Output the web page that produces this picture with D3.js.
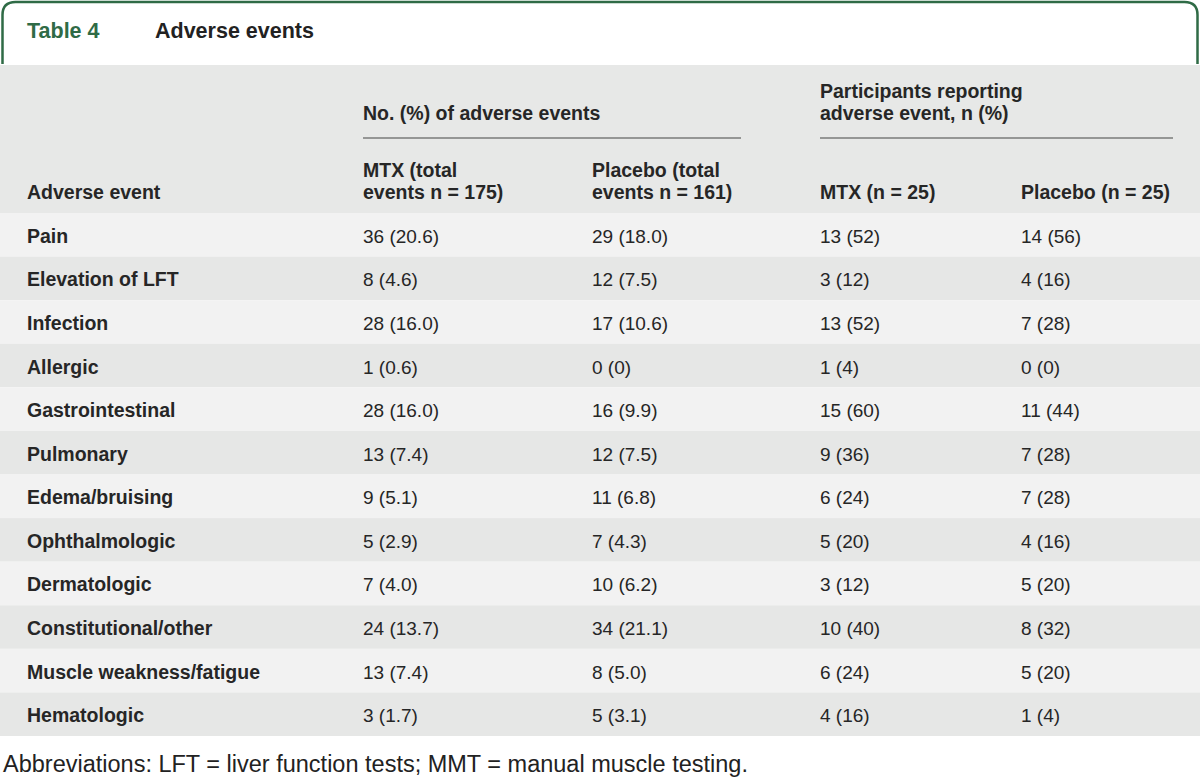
<!DOCTYPE html>
<html>
<head>
<meta charset="utf-8">
<script src="https://cdn.jsdelivr.net/npm/d3@7"></script>
<style>
  html, body { margin: 0; padding: 0; background: #fff; }
  svg { display: block; }
</style>
</head>
<body>
<svg id="chart" width="1200" height="779"></svg>
<script>
// ---- Data ----
const events = ["Pain", "Elevation of LFT", "Infection", "Allergic", "Gastrointestinal", "Pulmonary",
  "Edema/bruising", "Ophthalmologic", "Dermatologic", "Constitutional/other", "Muscle weakness/fatigue", "Hematologic"];
const mtxEventN = [36, 8, 28, 1, 28, 13, 9, 5, 7, 24, 13, 3];
const mtxEventPct = [20.6, 4.6, 16.0, 0.6, 16.0, 7.4, 5.1, 2.9, 4.0, 13.7, 7.4, 1.7];
const placeboEventN = [29, 12, 17, 0, 16, 12, 11, 7, 10, 34, 8, 5];
const placeboEventPct = [18.0, 7.5, 10.6, 0, 9.9, 7.5, 6.8, 4.3, 6.2, 21.1, 5.0, 3.1];
const mtxPartN = [13, 3, 13, 1, 15, 9, 6, 5, 3, 10, 6, 4];
const mtxPartPct = [52, 12, 52, 4, 60, 36, 24, 20, 12, 40, 24, 16];
const placeboPartN = [14, 4, 7, 0, 11, 7, 7, 4, 5, 8, 5, 1];
const placeboPartPct = [56, 16, 28, 0, 44, 28, 28, 16, 20, 32, 20, 4];

const tableNumber = "Table 4";
const tableTitle = "Adverse events";
const groupHeaders = [["No. (%) of adverse events"], ["Participants reporting", "adverse event, n (%)"]];
const columnHeaders = [["Adverse event"], ["MTX (total", "events n = 175)"], ["Placebo (total", "events n = 161)"],
  ["MTX (n = 25)"], ["Placebo (n = 25)"]];
const footnote = "Abbreviations: LFT = liver function tests; MMT = manual muscle testing.";

(function () {
// ---- Layout ----
const W = 1200;
const svg = d3.select("#chart");
const font = "'Liberation Sans', Arial, sans-serif";
const textColor = "#262626";
const green = "#2f6b46";
const boldSize = 19.5, bodySize = 19;

const colX = [27, 363, 592, 820, 1021];
const rowScale = d3.scaleBand().domain(d3.range(events.length)).range([213, 736]).paddingInner(0);

// header band
svg.append("rect").attr("x", 0).attr("y", 65).attr("width", W).attr("height", 148).attr("fill", "#e7e8e7");

// title border (rounded top)
const r = 13, bTop = 2, bLeft = 2.5, bRight = W - 2.5, bBottom = 64;
svg.append("path")
  .attr("d", `M${bLeft},${bBottom} V${bTop + r} Q${bLeft},${bTop} ${bLeft + r},${bTop} H${bRight - r} Q${bRight},${bTop} ${bRight},${bTop + r} V${bBottom}`)
  .attr("fill", "none").attr("stroke", green).attr("stroke-width", 2.5);

svg.append("text").attr("x", 27).attr("y", 38).attr("fill", green)
  .attr("font-family", font).attr("font-weight", "bold").attr("font-size", 21.5).text(tableNumber);
svg.append("text").attr("x", 155).attr("y", 38).attr("fill", "#222")
  .attr("font-family", font).attr("font-weight", "bold").attr("font-size", 21.5).text(tableTitle);

// group headers
const groupSpans = [[363, 741], [820, 1173]];
groupHeaders.forEach((lines, gi) => {
  const n = lines.length;
  lines.forEach((l, li) => {
    svg.append("text").attr("x", groupSpans[gi][0]).attr("y", 120 - (n - 1 - li) * 22)
      .attr("fill", textColor).attr("font-family", font).attr("font-weight", "bold").attr("font-size", boldSize).text(l);
  });
  svg.append("line").attr("x1", groupSpans[gi][0]).attr("x2", groupSpans[gi][1]).attr("y1", 138).attr("y2", 138)
    .attr("stroke", "#444").attr("stroke-width", 1.2);
});

// column headers
columnHeaders.forEach((lines, ci) => {
  const n = lines.length;
  lines.forEach((l, li) => {
    svg.append("text").attr("x", colX[ci]).attr("y", 199 - (n - 1 - li) * 22)
      .attr("fill", textColor).attr("font-family", font).attr("font-weight", "bold").attr("font-size", boldSize).text(l);
  });
});

// rows
const f1 = d3.format(".1f");
const fmtPct = (p, dec) => p === 0 ? "0" : (dec ? f1(p) : String(p));
const rows = events.map((e, i) => [
  e,
  `${mtxEventN[i]} (${fmtPct(mtxEventPct[i], true)})`,
  `${placeboEventN[i]} (${fmtPct(placeboEventPct[i], true)})`,
  `${mtxPartN[i]} (${fmtPct(mtxPartPct[i], false)})`,
  `${placeboPartN[i]} (${fmtPct(placeboPartPct[i], false)})`
]);

const g = svg.selectAll("g.row").data(rows).join("g").attr("class", "row")
  .attr("transform", (d, i) => `translate(0,${rowScale(i)})`);
g.append("rect").attr("x", 0).attr("width", W).attr("height", rowScale.bandwidth())
  .attr("fill", (d, i) => i % 2 === 0 ? "#f2f2f2" : "#e6e7e6");
g.selectAll("text").data(d => d).join("text")
  .attr("x", (d, i) => colX[i])
  .attr("y", rowScale.bandwidth() / 2 + 8)
  .attr("fill", textColor).attr("font-family", font)
  .attr("font-size", (d, i) => i === 0 ? boldSize : bodySize)
  .attr("font-weight", (d, i) => i === 0 ? "bold" : "normal")
  .text(d => d);

// footnote
svg.append("text").attr("x", 3).attr("y", 772).attr("fill", "#222")
  .attr("font-family", font).attr("font-size", 23.5)
  .text(footnote);
})();
</script>
</body>
</html>
